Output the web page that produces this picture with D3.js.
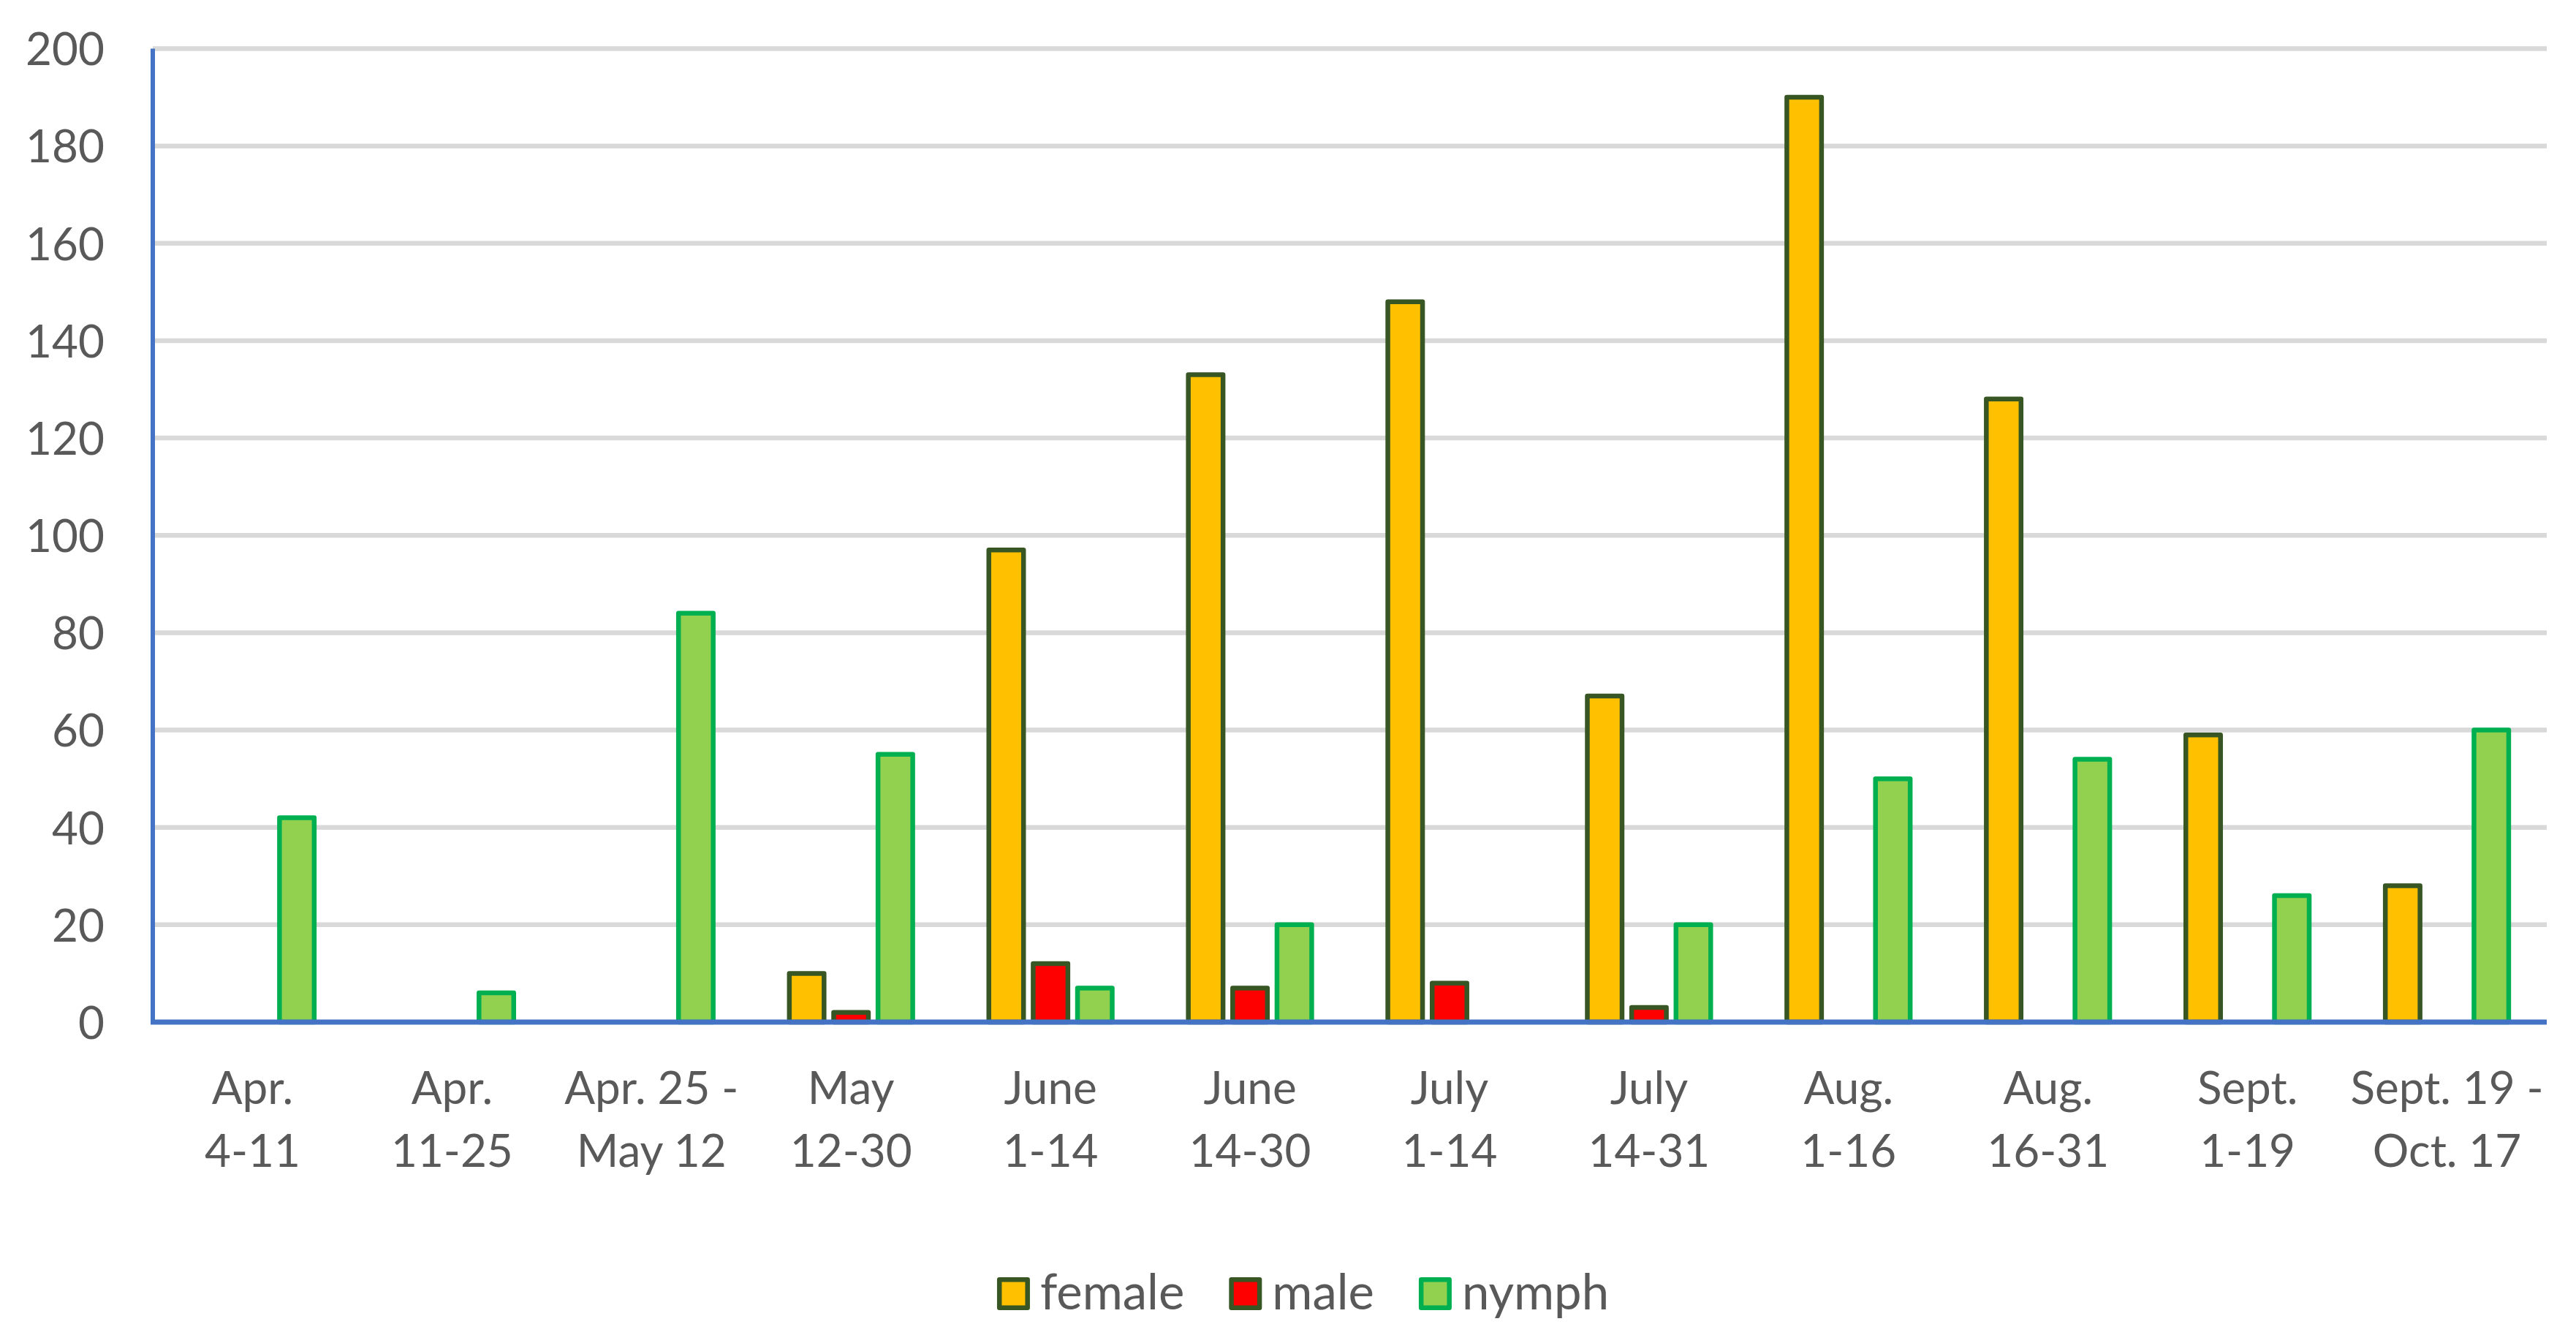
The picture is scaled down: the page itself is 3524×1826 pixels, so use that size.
<!DOCTYPE html>
<html>
<head>
<meta charset="utf-8">
<script src="https://cdn.jsdelivr.net/npm/d3@7"></script>
<style>
  html, body { margin: 0; padding: 0; background: #ffffff; }
  svg { display: block; }
  text { font-family: Lato, "Open Sans", sans-serif; fill: #595959; }
</style>
</head>
<body>
<svg id="chart" width="3524" height="1826"></svg>
<script>
// ---- data ----
const categories = [
  ["Apr.", "4-11"],
  ["Apr.", "11-25"],
  ["Apr. 25 -", "May 12"],
  ["May", "12-30"],
  ["June", "1-14"],
  ["June", "14-30"],
  ["July", "1-14"],
  ["July", "14-31"],
  ["Aug.", "1-16"],
  ["Aug.", "16-31"],
  ["Sept.", "1-19"],
  ["Sept. 19 -", "Oct. 17"]
];
const seriesNames = ["female", "male", "nymph"];
const female = [0, 0, 0, 10, 97, 133, 148, 67, 190, 128, 59, 28];
const male   = [0, 0, 0, 2, 12, 7, 8, 3, 0, 0, 0, 0];
const nymph  = [42, 6, 84, 55, 7, 20, 0, 20, 50, 54, 26, 60];
const yTicks = [0, 20, 40, 60, 80, 100, 120, 140, 160, 180, 200];

// ---- styles ----
const fills   = { female: "#FFC000", male: "#FF0000", nymph: "#92D050" };
const strokes = { female: "#375623", male: "#375623", nymph: "#00B050" };
const values  = { female, male, nymph };

const svg = d3.select("#chart");
const pLeft = 209, pRight = 3484, pTop = 66.5, pBottom = 1398;
const catKeys = categories.map((c, i) => i);

const x0 = d3.scaleBand().domain(catKeys).range([pLeft, pRight])
  .paddingInner(1/3).paddingOuter(1/6);
const x1 = d3.scaleBand().domain(seriesNames).range([0, x0.bandwidth()])
  .paddingInner(0.11).paddingOuter(0.055);
const y = d3.scaleLinear().domain([0, 200]).range([pBottom, pTop]);

// gridlines
svg.append("g").selectAll("line")
  .data(yTicks.filter(t => t > 0))
  .join("line")
  .attr("x1", pLeft).attr("x2", pRight)
  .attr("y1", d => y(d)).attr("y2", d => y(d))
  .attr("stroke", "#D9D9D9").attr("stroke-width", 6.5);

// y tick labels
const yAxis = svg.append("g")
  .attr("transform", `translate(${pLeft},0)`)
  .call(d3.axisLeft(y).tickValues(yTicks).tickSize(0).tickPadding(66));
yAxis.select(".domain").remove();
yAxis.selectAll("text")
  .attr("font-size", 62)
  .style("font-family", "Lato, 'Open Sans', sans-serif")
  .attr("fill", "#595959")
  .attr("dy", "0.36em");

// bars
const sw = 6.5;
const groups = svg.append("g").selectAll("g")
  .data(catKeys)
  .join("g")
  .attr("transform", d => `translate(${x0(d)},0)`);
groups.selectAll("rect")
  .data(i => seriesNames.map(s => ({ s, v: values[s][i] })).filter(d => d.v > 0))
  .join("rect")
  .attr("x", d => x1(d.s) + sw / 2)
  .attr("width", x1.bandwidth() - sw)
  .attr("y", d => y(d.v))
  .attr("height", d => y(0) - y(d.v))
  .attr("fill", d => fills[d.s])
  .attr("stroke", d => strokes[d.s])
  .attr("stroke-width", sw)
  .attr("stroke-linejoin", "round");

// axis lines
svg.append("line")
  .attr("x1", pLeft).attr("x2", pLeft)
  .attr("y1", pTop).attr("y2", pBottom + 3)
  .attr("stroke", "#4472C4").attr("stroke-width", 6);
svg.append("line")
  .attr("x1", pLeft - 3).attr("x2", pRight)
  .attr("y1", pBottom).attr("y2", pBottom)
  .attr("stroke", "#4472C4").attr("stroke-width", 7);

// x labels
const xl = svg.append("g").selectAll("text")
  .data(catKeys)
  .join("text")
  .attr("text-anchor", "middle")
  .attr("font-size", 62)
  .attr("x", d => x0(d) + x0.bandwidth() / 2);
xl.append("tspan")
  .attr("x", d => x0(d) + x0.bandwidth() / 2)
  .attr("y", 1510)
  .text(d => categories[d][0]);
xl.append("tspan")
  .attr("x", d => x0(d) + x0.bandwidth() / 2)
  .attr("y", 1596)
  .text(d => categories[d][1]);

// legend
const legend = svg.append("g");
const items = legend.selectAll("g").data(seriesNames).join("g");
items.append("rect")
  .attr("x", sw / 2).attr("y", 1747 + sw / 2)
  .attr("width", 45 - sw).attr("height", 45 - sw)
  .attr("fill", d => fills[d])
  .attr("stroke", d => strokes[d])
  .attr("stroke-width", sw)
  .attr("stroke-linejoin", "round");
items.append("text")
  .attr("x", 59).attr("y", 1791)
  .attr("font-size", 67)
  .text(d => d);
const widths = [];
items.each(function() {
  widths.push(59 + this.querySelector("text").getComputedTextLength());
});
const gap = 61;
const total = d3.sum(widths) + gap * (widths.length - 1);
let start = 1782.5 - total / 2;
items.attr("transform", (d, i) => {
  const t = `translate(${start},0)`;
  start += widths[i] + gap;
  return t;
});
</script>
</body>
</html>
